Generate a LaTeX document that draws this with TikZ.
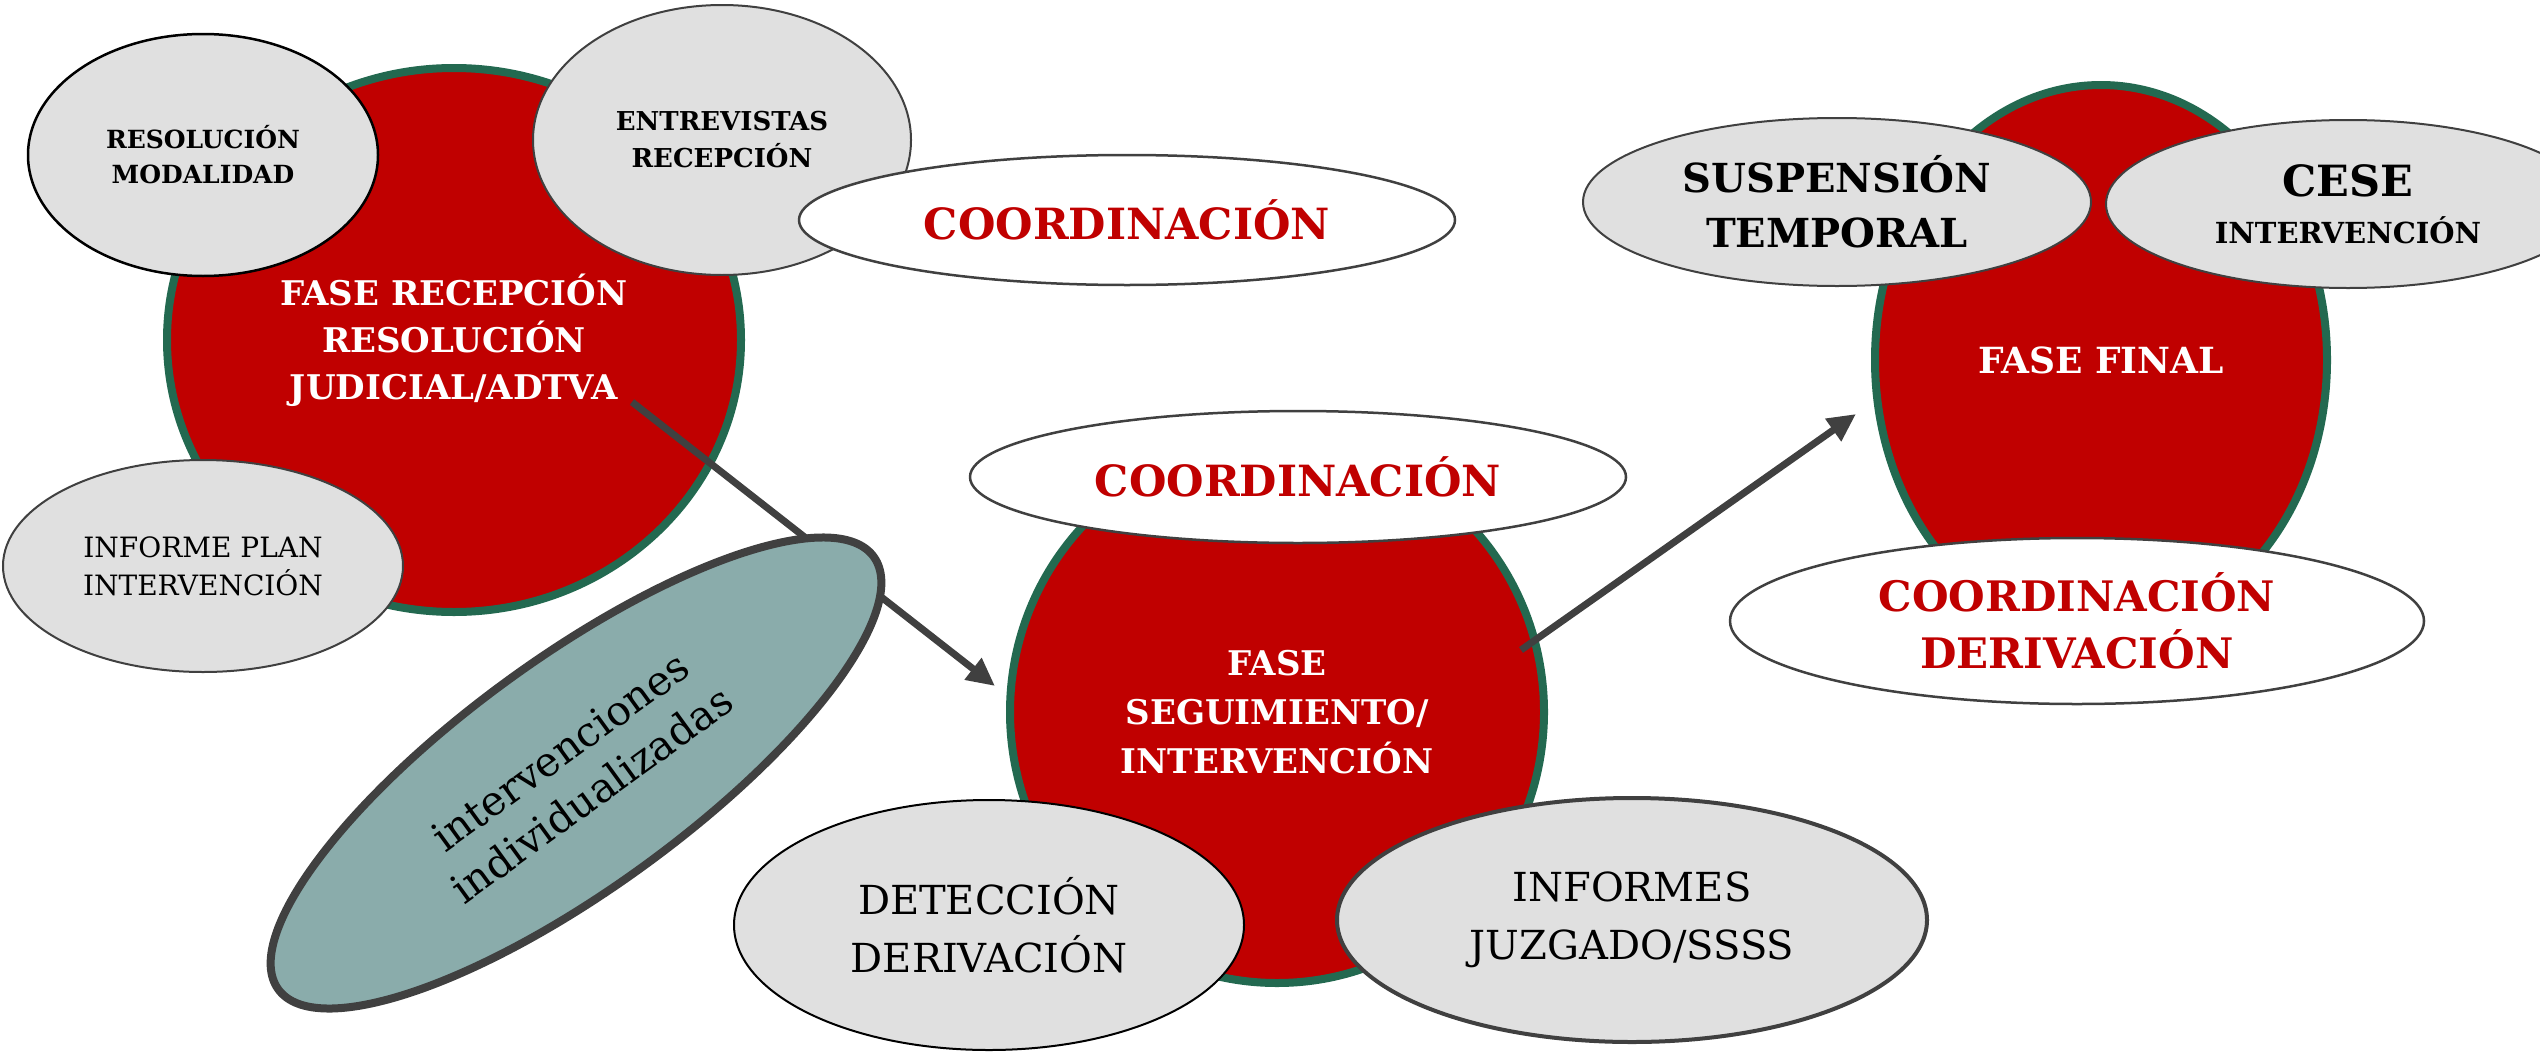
\documentclass[tikz,border=0pt]{standalone}
\usepackage{fontspec}
\setmainfont{DejaVu Serif}
\usetikzlibrary{shapes.geometric,arrows.meta}
\definecolor{fred}{RGB}{192,0,0}
\definecolor{fgreen}{RGB}{35,105,80}
\definecolor{fgray}{RGB}{224,224,224}
\definecolor{fteal}{RGB}{138,172,171}
\definecolor{fdark}{RGB}{64,64,64}
\begin{document}
\begin{tikzpicture}[x=1pt,y=-1pt,
  phase/.style={ellipse, fill=fred, draw=fgreen, line width=8pt, text=white, align=center, inner sep=0pt},
  sub/.style={ellipse, fill=fgray, draw=fdark, line width=2pt, text=black, align=center, inner sep=0pt},
  coordbox/.style={ellipse, fill=white, draw=fdark, line width=2.5pt, text=fred, align=center, inner sep=0pt},
  flow/.style={draw=fdark, line width=7pt, -{Triangle[length=28pt,width=26pt]}}
]
\useasboundingbox (0,0) rectangle (2540,1052);
\clip (0,0) rectangle (2540,1052);
\fill[white] (0,0) rectangle (2540,1052);

% ---------- Fase recepcion ----------
\node[phase, minimum width=574pt, minimum height=544pt,
  font={\bfseries\fontsize{34}{47}\selectfont}] (c1) at (454,340)
  {FASE RECEPCIÓN\\RESOLUCIÓN\\JUDICIAL/ADTVA};
\node[sub, draw=black, line width=2.5pt, minimum width=350pt, minimum height=242pt,
  font={\bfseries\fontsize{25}{35}\selectfont}] (resmod) at (203,155)
  {RESOLUCIÓN\\MODALIDAD};
\node[sub, minimum width=378pt, minimum height=270pt,
  font={\bfseries\fontsize{26}{37}\selectfont}] (entrev) at (722,140)
  {ENTREVISTAS\\RECEPCIÓN};
\node[coordbox, minimum width=656pt, minimum height=130pt,
  font={\bfseries\fontsize{43}{50}\selectfont}] (coord1) at (1127,220)
  {COORDINACIÓN};
\node[sub, minimum width=400pt, minimum height=212pt,
  font={\fontsize{28}{38}\selectfont}] (infplan) at (203,566)
  {INFORME PLAN\\INTERVENCIÓN};

% ---------- arrow 1 behind the teal ellipse ----------
\coordinate (a1s) at (632,402);
\coordinate (a1e) at (995,686);
\draw[flow] (a1s) -- (a1e);

\node[ellipse, rotate=36, fill=fteal, draw=fdark, line width=8pt, inner sep=0pt,
  minimum width=736pt, minimum height=230pt, align=center,
  font={\fontsize{41}{53}\selectfont}] (indiv) at (576,773)
  {intervenciones\\individualizadas};

% ---------- Fase seguimiento ----------
\node[phase, minimum width=534pt, minimum height=542pt,
  font={\bfseries\fontsize{34}{49}\selectfont}] (c2) at (1277,712)
  {FASE\\SEGUIMIENTO/\\INTERVENCIÓN};
\node[coordbox, minimum width=656pt, minimum height=132pt,
  font={\bfseries\fontsize{43}{50}\selectfont}] (coord2) at (1298,477)
  {COORDINACIÓN};
\node[sub, draw=black, minimum width=510pt, minimum height=250pt,
  font={\fontsize{40}{58}\selectfont}] (detec) at (989,925)
  {DETECCIÓN\\DERIVACIÓN};
\node[sub, line width=4pt, minimum width=590pt, minimum height=244pt,
  font={\fontsize{40}{58}\selectfont}] (informes) at (1632,920)
  {INFORMES\\JUZGADO/SSSS};

\coordinate (a2s) at (1521,650);
\coordinate (a2e) at (1856,414);
\draw[flow] (a2s) -- (a2e);

% ---------- Fase final ----------
\node[phase, minimum width=452pt, minimum height=550pt,
  font={\bfseries\fontsize{36}{44}\selectfont}] (c3) at (2101,360)
  {FASE FINAL};
\node[sub, minimum width=508pt, minimum height=168pt,
  font={\bfseries\fontsize{40}{55}\selectfont}] (susp) at (1837,202)
  {SUSPENSIÓN\\TEMPORAL};
\node[sub, minimum width=484pt, minimum height=168pt,
  font={\bfseries\fontsize{29}{47}\selectfont}] (cese) at (2348,204)
  {{\fontsize{43}{47}\selectfont CESE}\\INTERVENCIÓN};
\node[coordbox, minimum width=694pt, minimum height=166pt,
  font={\bfseries\fontsize{42}{57}\selectfont}] (coordder) at (2077,621)
  {COORDINACIÓN\\DERIVACIÓN};
\end{tikzpicture}
\end{document}
